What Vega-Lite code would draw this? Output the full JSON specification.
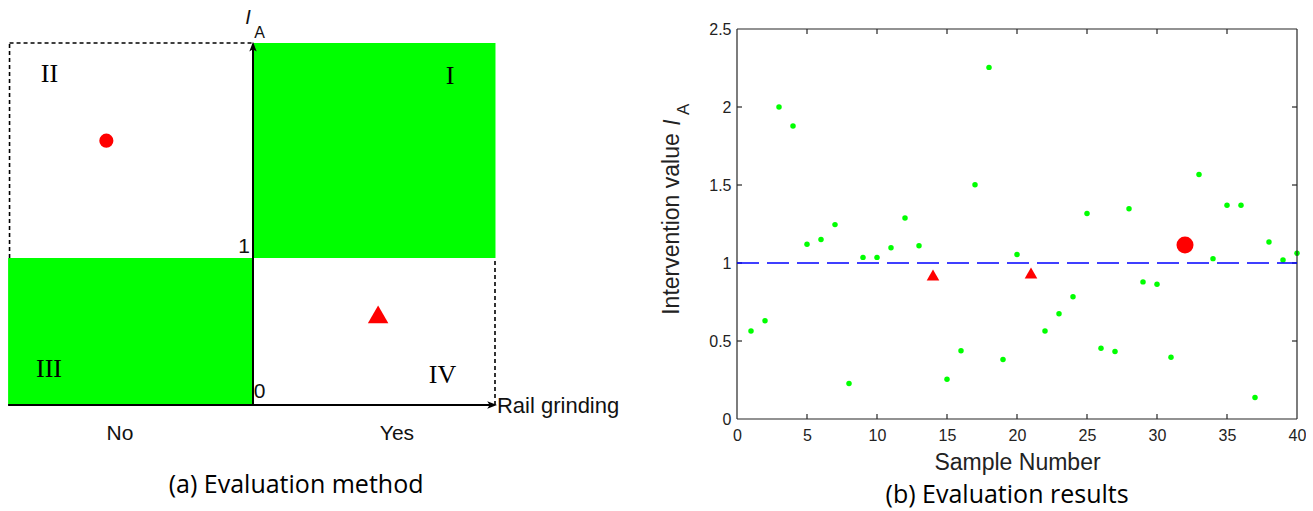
{
  "$schema": "https://vega.github.io/schema/vega-lite/v6.json",
  "padding": 0,
  "background": "white",
  "spacing": 87,
  "bounds": "flush",
  "config": {"view": {"stroke": null}},
  "resolve": {"scale": {"shape": "independent", "size": "independent", "color": "independent"}},
  "hconcat": [
    {
      "width": 650,
      "height": 511,
      "layer": [
        {
          "data": {"values": [
            {"x": 0, "x2": 1.002, "y": 1, "y2": 2.463},
            {"x": -1.012, "x2": 0, "y": 0, "y2": 1}
          ]},
          "mark": {"type": "rect", "color": "#00ff00"},
          "encoding": {
            "x": {"field": "x", "type": "quantitative", "scale": {"domain": [-1.04545, 1.6405], "nice": false, "zero": false}, "axis": null},
            "x2": {"field": "x2"},
            "y": {"field": "y", "type": "quantitative", "scale": {"domain": [-0.72109, 2.7551], "nice": false, "zero": false}, "axis": null},
            "y2": {"field": "y2"}
          }
        },
        {
          "data": {"values": [
            {"x": -1.006, "x2": 0, "y": 2.463, "y2": 2.463},
            {"x": -1.006, "x2": -1.006, "y": 1, "y2": 2.463},
            {"x": 1, "x2": 1, "y": 0, "y2": 1}
          ]},
          "mark": {"type": "rule", "color": "#000000", "strokeWidth": 1.6, "strokeDash": [4, 3]},
          "encoding": {
            "x": {"field": "x", "type": "quantitative", "scale": {"domain": [-1.04545, 1.6405], "nice": false, "zero": false}, "axis": null},
            "x2": {"field": "x2"},
            "y": {"field": "y", "type": "quantitative", "scale": {"domain": [-0.72109, 2.7551], "nice": false, "zero": false}, "axis": null},
            "y2": {"field": "y2"}
          }
        },
        {
          "data": {"values": [
            {"x": 0, "x2": 0, "y": 0, "y2": 2.44},
            {"x": -1.012, "x2": 0.98, "y": 0, "y2": 0}
          ]},
          "mark": {"type": "rule", "color": "#000000", "strokeWidth": 2},
          "encoding": {
            "x": {"field": "x", "type": "quantitative", "scale": {"domain": [-1.04545, 1.6405], "nice": false, "zero": false}, "axis": null},
            "x2": {"field": "x2"},
            "y": {"field": "y", "type": "quantitative", "scale": {"domain": [-0.72109, 2.7551], "nice": false, "zero": false}, "axis": null},
            "y2": {"field": "y2"}
          }
        },
        {
          "data": {"values": [{"x": 0, "y": 2.429}]},
          "mark": {"type": "point", "filled": true, "opacity": 1, "color": "#000000", "size": 150, "shape": "M0,-1L0.6,0.6L0,0.2L-0.6,0.6Z"},
          "encoding": {
            "x": {"field": "x", "type": "quantitative", "scale": {"domain": [-1.04545, 1.6405], "nice": false, "zero": false}, "axis": null},
            "y": {"field": "y", "type": "quantitative", "scale": {"domain": [-0.72109, 2.7551], "nice": false, "zero": false}, "axis": null}
          }
        },
        {
          "data": {"values": [{"x": 0.983, "y": 0}]},
          "mark": {"type": "point", "filled": true, "opacity": 1, "color": "#000000", "size": 150, "shape": "M1,0L-0.6,0.6L-0.2,0L-0.6,-0.6Z"},
          "encoding": {
            "x": {"field": "x", "type": "quantitative", "scale": {"domain": [-1.04545, 1.6405], "nice": false, "zero": false}, "axis": null},
            "y": {"field": "y", "type": "quantitative", "scale": {"domain": [-0.72109, 2.7551], "nice": false, "zero": false}, "axis": null}
          }
        },
        {
          "data": {"values": [{"x": -0.606, "y": 1.798}]},
          "mark": {"type": "point", "filled": true, "opacity": 1, "color": "#ff0000", "size": 200, "shape": "circle"},
          "encoding": {
            "x": {"field": "x", "type": "quantitative", "scale": {"domain": [-1.04545, 1.6405], "nice": false, "zero": false}, "axis": null},
            "y": {"field": "y", "type": "quantitative", "scale": {"domain": [-0.72109, 2.7551], "nice": false, "zero": false}, "axis": null}
          }
        },
        {
          "data": {"values": [{"x": 0.517, "y": 0.616}]},
          "mark": {"type": "point", "filled": true, "opacity": 1, "color": "#ff0000", "size": 420, "shape": "triangle-up"},
          "encoding": {
            "x": {"field": "x", "type": "quantitative", "scale": {"domain": [-1.04545, 1.6405], "nice": false, "zero": false}, "axis": null},
            "y": {"field": "y", "type": "quantitative", "scale": {"domain": [-0.72109, 2.7551], "nice": false, "zero": false}, "axis": null}
          }
        },
        {
          "data": {"values": [
            {"x": -0.841, "y": 2.252, "t": "II"},
            {"x": 0.814, "y": 2.235, "t": "I"},
            {"x": -0.843, "y": 0.248, "t": "III"},
            {"x": 0.783, "y": 0.201, "t": "IV"}
          ]},
          "mark": {"type": "text", "font": "Liberation Serif", "fontSize": 26, "color": "#000000", "align": "center", "baseline": "middle"},
          "encoding": {
            "x": {"field": "x", "type": "quantitative", "scale": {"domain": [-1.04545, 1.6405], "nice": false, "zero": false}, "axis": null},
            "y": {"field": "y", "type": "quantitative", "scale": {"domain": [-0.72109, 2.7551], "nice": false, "zero": false}, "axis": null},
            "text": {"field": "t"}
          }
        },
        {
          "data": {"values": [
            {"x": -0.037, "y": 1.075, "t": "1"},
            {"x": 0.027, "y": 0.088, "t": "0"},
            {"x": -0.55, "y": -0.195, "t": "No"},
            {"x": 0.595, "y": -0.195, "t": "Yes"}
          ]},
          "mark": {"type": "text", "font": "Liberation Sans", "fontSize": 21, "color": "#111111", "align": "center", "baseline": "middle"},
          "encoding": {
            "x": {"field": "x", "type": "quantitative", "scale": {"domain": [-1.04545, 1.6405], "nice": false, "zero": false}, "axis": null},
            "y": {"field": "y", "type": "quantitative", "scale": {"domain": [-0.72109, 2.7551], "nice": false, "zero": false}, "axis": null},
            "text": {"field": "t"}
          }
        },
        {
          "data": {"values": [
            {"x": 1.008, "y": -0.007, "t": "Rail grinding"}
          ]},
          "mark": {"type": "text", "font": "Liberation Sans", "fontSize": 22, "color": "#111111", "align": "left", "baseline": "middle"},
          "encoding": {
            "x": {"field": "x", "type": "quantitative", "scale": {"domain": [-1.04545, 1.6405], "nice": false, "zero": false}, "axis": null},
            "y": {"field": "y", "type": "quantitative", "scale": {"domain": [-0.72109, 2.7551], "nice": false, "zero": false}, "axis": null},
            "text": {"field": "t"}
          }
        },
        {
          "data": {"values": [
            {"x": -0.021, "y": 2.636, "t": "I"}
          ]},
          "mark": {"type": "text", "font": "Liberation Sans", "fontSize": 20, "fontStyle": "italic", "color": "#111111", "align": "center", "baseline": "middle"},
          "encoding": {
            "x": {"field": "x", "type": "quantitative", "scale": {"domain": [-1.04545, 1.6405], "nice": false, "zero": false}, "axis": null},
            "y": {"field": "y", "type": "quantitative", "scale": {"domain": [-0.72109, 2.7551], "nice": false, "zero": false}, "axis": null},
            "text": {"field": "t"}
          }
        },
        {
          "data": {"values": [
            {"x": 0.027, "y": 2.53, "t": "A"}
          ]},
          "mark": {"type": "text", "font": "Liberation Sans", "fontSize": 16, "color": "#111111", "align": "center", "baseline": "middle"},
          "encoding": {
            "x": {"field": "x", "type": "quantitative", "scale": {"domain": [-1.04545, 1.6405], "nice": false, "zero": false}, "axis": null},
            "y": {"field": "y", "type": "quantitative", "scale": {"domain": [-0.72109, 2.7551], "nice": false, "zero": false}, "axis": null},
            "text": {"field": "t"}
          }
        },
        {
          "data": {"values": [
            {"x": 0.178, "y": -0.544, "t": "(a) Evaluation method"}
          ]},
          "mark": {"type": "text", "font": "Open Sans", "fontSize": 25, "color": "#000000", "align": "center", "baseline": "middle"},
          "encoding": {
            "x": {"field": "x", "type": "quantitative", "scale": {"domain": [-1.04545, 1.6405], "nice": false, "zero": false}, "axis": null},
            "y": {"field": "y", "type": "quantitative", "scale": {"domain": [-0.72109, 2.7551], "nice": false, "zero": false}, "axis": null},
            "text": {"field": "t"}
          }
        }
      ]
    },
    {
      "width": 560,
      "height": 419,
      "layer": [
        {
          "data": {"values": [
            {"n": 1, "v": 0.564, "kind": "normal"},
            {"n": 2, "v": 0.63, "kind": "normal"},
            {"n": 3, "v": 2.0, "kind": "normal"},
            {"n": 4, "v": 1.878, "kind": "normal"},
            {"n": 5, "v": 1.12, "kind": "normal"},
            {"n": 6, "v": 1.15, "kind": "normal"},
            {"n": 7, "v": 1.246, "kind": "normal"},
            {"n": 8, "v": 0.228, "kind": "normal"},
            {"n": 9, "v": 1.036, "kind": "normal"},
            {"n": 10, "v": 1.036, "kind": "normal"},
            {"n": 11, "v": 1.098, "kind": "normal"},
            {"n": 12, "v": 1.288, "kind": "normal"},
            {"n": 13, "v": 1.11, "kind": "normal"},
            {"n": 14, "v": 0.923, "kind": "triangle"},
            {"n": 15, "v": 0.255, "kind": "normal"},
            {"n": 16, "v": 0.438, "kind": "normal"},
            {"n": 17, "v": 1.502, "kind": "normal"},
            {"n": 18, "v": 2.254, "kind": "normal"},
            {"n": 19, "v": 0.381, "kind": "normal"},
            {"n": 20, "v": 1.055, "kind": "normal"},
            {"n": 21, "v": 0.936, "kind": "triangle"},
            {"n": 22, "v": 0.564, "kind": "normal"},
            {"n": 23, "v": 0.674, "kind": "normal"},
            {"n": 24, "v": 0.783, "kind": "normal"},
            {"n": 25, "v": 1.318, "kind": "normal"},
            {"n": 26, "v": 0.453, "kind": "normal"},
            {"n": 27, "v": 0.432, "kind": "normal"},
            {"n": 28, "v": 1.348, "kind": "normal"},
            {"n": 29, "v": 0.879, "kind": "normal"},
            {"n": 30, "v": 0.864, "kind": "normal"},
            {"n": 31, "v": 0.396, "kind": "normal"},
            {"n": 32, "v": 1.115, "kind": "circle"},
            {"n": 33, "v": 1.568, "kind": "normal"},
            {"n": 34, "v": 1.028, "kind": "normal"},
            {"n": 35, "v": 1.37, "kind": "normal"},
            {"n": 36, "v": 1.37, "kind": "normal"},
            {"n": 37, "v": 0.138, "kind": "normal"},
            {"n": 38, "v": 1.135, "kind": "normal"},
            {"n": 39, "v": 1.019, "kind": "normal"},
            {"n": 40, "v": 1.062, "kind": "normal"}
          ]},
          "mark": {"type": "point", "filled": true, "opacity": 1},
          "encoding": {
            "x": {"field": "n", "type": "quantitative", "scale": {"domain": [0, 40], "nice": false, "zero": false},
              "axis": {"values": [0, 5, 10, 15, 20, 25, 30, 35, 40], "domain": false, "ticks": false, "grid": false, "labelFlush": false, "labelOverlap": false, "labelPadding": 8, "labelFontSize": 16, "labelFont": "Liberation Sans", "labelColor": "#222222", "title": "Sample Number", "titleFontSize": 23, "titleFont": "Liberation Sans", "titleFontWeight": "normal", "titleColor": "#222222", "titlePadding": 8}},
            "y": {"field": "v", "type": "quantitative", "scale": {"domain": [0, 2.6859], "nice": false, "zero": false},
              "axis": {"values": [0, 0.5, 1, 1.5, 2, 2.5], "format": "~g", "domain": false, "ticks": false, "grid": false, "labelFlush": false, "labelOverlap": false, "labelPadding": 6, "labelFontSize": 16, "labelFont": "Liberation Sans", "labelColor": "#222222", "title": null}},
            "shape": {"field": "kind", "type": "nominal", "scale": {"domain": ["normal", "triangle", "circle"], "range": ["circle", "triangle-up", "circle"]}, "legend": null},
            "color": {"field": "kind", "type": "nominal", "scale": {"domain": ["normal", "triangle", "circle"], "range": ["#00ff00", "#ff0000", "#ff0000"]}, "legend": null},
            "size": {"field": "kind", "type": "nominal", "scale": {"domain": ["normal", "triangle", "circle"], "range": [30, 290, 110]}, "legend": null}
          }
        },
        {
          "data": {"values": [
            {"x": 0, "x2": 40, "y": 0, "y2": 0},
            {"x": 0, "x2": 40, "y": 2.5, "y2": 2.5},
            {"x": 0, "x2": 0, "y": 0, "y2": 2.5},
            {"x": 40, "x2": 40, "y": 0, "y2": 2.5}
          ]},
          "mark": {"type": "rule", "color": "#262626", "strokeWidth": 1.2},
          "encoding": {
            "x": {"field": "x", "type": "quantitative", "scale": {"domain": [0, 40], "nice": false, "zero": false},
              "axis": {"values": [0, 5, 10, 15, 20, 25, 30, 35, 40], "domain": false, "ticks": false, "grid": false, "labelFlush": false, "labelOverlap": false, "labelPadding": 8, "labelFontSize": 16, "labelFont": "Liberation Sans", "labelColor": "#222222", "title": "Sample Number", "titleFontSize": 23, "titleFont": "Liberation Sans", "titleFontWeight": "normal", "titleColor": "#222222", "titlePadding": 8}},
            "x2": {"field": "x2"},
            "y": {"field": "y", "type": "quantitative", "scale": {"domain": [0, 2.6859], "nice": false, "zero": false},
              "axis": {"values": [0, 0.5, 1, 1.5, 2, 2.5], "format": "~g", "domain": false, "ticks": false, "grid": false, "labelFlush": false, "labelOverlap": false, "labelPadding": 6, "labelFontSize": 16, "labelFont": "Liberation Sans", "labelColor": "#222222", "title": null}},
            "y2": {"field": "y2"}
          }
        },
        {
          "data": {"values": [{"v": 5}, {"v": 10}, {"v": 15}, {"v": 20}, {"v": 25}, {"v": 30}, {"v": 35}]},
          "mark": {"type": "rule", "color": "#262626", "strokeWidth": 1.2, "y2Offset": -5},
          "encoding": {
            "x": {"field": "v", "type": "quantitative", "scale": {"domain": [0, 40], "nice": false, "zero": false},
              "axis": {"values": [0, 5, 10, 15, 20, 25, 30, 35, 40], "domain": false, "ticks": false, "grid": false, "labelFlush": false, "labelOverlap": false, "labelPadding": 8, "labelFontSize": 16, "labelFont": "Liberation Sans", "labelColor": "#222222", "title": "Sample Number", "titleFontSize": 23, "titleFont": "Liberation Sans", "titleFontWeight": "normal", "titleColor": "#222222", "titlePadding": 8}},
            "y": {"datum": 0, "type": "quantitative", "scale": {"domain": [0, 2.6859], "nice": false, "zero": false},
              "axis": {"values": [0, 0.5, 1, 1.5, 2, 2.5], "format": "~g", "domain": false, "ticks": false, "grid": false, "labelFlush": false, "labelOverlap": false, "labelPadding": 6, "labelFontSize": 16, "labelFont": "Liberation Sans", "labelColor": "#222222", "title": null}},
            "y2": {"datum": 0}
          }
        },
        {
          "data": {"values": [{"v": 5}, {"v": 10}, {"v": 15}, {"v": 20}, {"v": 25}, {"v": 30}, {"v": 35}]},
          "mark": {"type": "rule", "color": "#262626", "strokeWidth": 1.2, "y2Offset": 5},
          "encoding": {
            "x": {"field": "v", "type": "quantitative", "scale": {"domain": [0, 40], "nice": false, "zero": false},
              "axis": {"values": [0, 5, 10, 15, 20, 25, 30, 35, 40], "domain": false, "ticks": false, "grid": false, "labelFlush": false, "labelOverlap": false, "labelPadding": 8, "labelFontSize": 16, "labelFont": "Liberation Sans", "labelColor": "#222222", "title": "Sample Number", "titleFontSize": 23, "titleFont": "Liberation Sans", "titleFontWeight": "normal", "titleColor": "#222222", "titlePadding": 8}},
            "y": {"datum": 2.5, "type": "quantitative", "scale": {"domain": [0, 2.6859], "nice": false, "zero": false},
              "axis": {"values": [0, 0.5, 1, 1.5, 2, 2.5], "format": "~g", "domain": false, "ticks": false, "grid": false, "labelFlush": false, "labelOverlap": false, "labelPadding": 6, "labelFontSize": 16, "labelFont": "Liberation Sans", "labelColor": "#222222", "title": null}},
            "y2": {"datum": 2.5}
          }
        },
        {
          "data": {"values": [{"v": 0.5}, {"v": 1}, {"v": 1.5}, {"v": 2}]},
          "mark": {"type": "rule", "color": "#262626", "strokeWidth": 1.2, "x2Offset": 5},
          "encoding": {
            "y": {"field": "v", "type": "quantitative", "scale": {"domain": [0, 2.6859], "nice": false, "zero": false},
              "axis": {"values": [0, 0.5, 1, 1.5, 2, 2.5], "format": "~g", "domain": false, "ticks": false, "grid": false, "labelFlush": false, "labelOverlap": false, "labelPadding": 6, "labelFontSize": 16, "labelFont": "Liberation Sans", "labelColor": "#222222", "title": null}},
            "x": {"datum": 0, "type": "quantitative", "scale": {"domain": [0, 40], "nice": false, "zero": false},
              "axis": {"values": [0, 5, 10, 15, 20, 25, 30, 35, 40], "domain": false, "ticks": false, "grid": false, "labelFlush": false, "labelOverlap": false, "labelPadding": 8, "labelFontSize": 16, "labelFont": "Liberation Sans", "labelColor": "#222222", "title": "Sample Number", "titleFontSize": 23, "titleFont": "Liberation Sans", "titleFontWeight": "normal", "titleColor": "#222222", "titlePadding": 8}},
            "x2": {"datum": 0}
          }
        },
        {
          "data": {"values": [{"v": 0.5}, {"v": 1}, {"v": 1.5}, {"v": 2}]},
          "mark": {"type": "rule", "color": "#262626", "strokeWidth": 1.2, "x2Offset": -5},
          "encoding": {
            "y": {"field": "v", "type": "quantitative", "scale": {"domain": [0, 2.6859], "nice": false, "zero": false},
              "axis": {"values": [0, 0.5, 1, 1.5, 2, 2.5], "format": "~g", "domain": false, "ticks": false, "grid": false, "labelFlush": false, "labelOverlap": false, "labelPadding": 6, "labelFontSize": 16, "labelFont": "Liberation Sans", "labelColor": "#222222", "title": null}},
            "x": {"datum": 40, "type": "quantitative", "scale": {"domain": [0, 40], "nice": false, "zero": false},
              "axis": {"values": [0, 5, 10, 15, 20, 25, 30, 35, 40], "domain": false, "ticks": false, "grid": false, "labelFlush": false, "labelOverlap": false, "labelPadding": 8, "labelFontSize": 16, "labelFont": "Liberation Sans", "labelColor": "#222222", "title": "Sample Number", "titleFontSize": 23, "titleFont": "Liberation Sans", "titleFontWeight": "normal", "titleColor": "#222222", "titlePadding": 8}},
            "x2": {"datum": 40}
          }
        },
        {
          "data": {"values": [{"x": 0, "x2": 40, "y": 1}]},
          "mark": {"type": "rule", "color": "#0000ff", "strokeWidth": 1.5, "strokeDash": [22, 8]},
          "encoding": {
            "x": {"field": "x", "type": "quantitative", "scale": {"domain": [0, 40], "nice": false, "zero": false},
              "axis": {"values": [0, 5, 10, 15, 20, 25, 30, 35, 40], "domain": false, "ticks": false, "grid": false, "labelFlush": false, "labelOverlap": false, "labelPadding": 8, "labelFontSize": 16, "labelFont": "Liberation Sans", "labelColor": "#222222", "title": "Sample Number", "titleFontSize": 23, "titleFont": "Liberation Sans", "titleFontWeight": "normal", "titleColor": "#222222", "titlePadding": 8}},
            "x2": {"field": "x2"},
            "y": {"field": "y", "type": "quantitative", "scale": {"domain": [0, 2.6859], "nice": false, "zero": false},
              "axis": {"values": [0, 0.5, 1, 1.5, 2, 2.5], "format": "~g", "domain": false, "ticks": false, "grid": false, "labelFlush": false, "labelOverlap": false, "labelPadding": 6, "labelFontSize": 16, "labelFont": "Liberation Sans", "labelColor": "#222222", "title": null}}
          }
        },
        {
          "data": {"values": [{"x": -4.643, "y": 1.25, "t": "Intervention value"}]},
          "mark": {"type": "text", "font": "Liberation Sans", "fontSize": 23, "color": "#222222", "angle": 270, "align": "center", "baseline": "middle"},
          "encoding": {
            "x": {"field": "x", "type": "quantitative", "scale": {"domain": [0, 40], "nice": false, "zero": false},
              "axis": {"values": [0, 5, 10, 15, 20, 25, 30, 35, 40], "domain": false, "ticks": false, "grid": false, "labelFlush": false, "labelOverlap": false, "labelPadding": 8, "labelFontSize": 16, "labelFont": "Liberation Sans", "labelColor": "#222222", "title": "Sample Number", "titleFontSize": 23, "titleFont": "Liberation Sans", "titleFontWeight": "normal", "titleColor": "#222222", "titlePadding": 8}},
            "y": {"field": "y", "type": "quantitative", "scale": {"domain": [0, 2.6859], "nice": false, "zero": false},
              "axis": {"values": [0, 0.5, 1, 1.5, 2, 2.5], "format": "~g", "domain": false, "ticks": false, "grid": false, "labelFlush": false, "labelOverlap": false, "labelPadding": 6, "labelFontSize": 16, "labelFont": "Liberation Sans", "labelColor": "#222222", "title": null}},
            "text": {"field": "t"}
          }
        },
        {
          "data": {"values": [{"x": -4.55, "y": 1.9, "t": "I"}]},
          "mark": {"type": "text", "font": "Liberation Sans", "fontSize": 23, "fontStyle": "italic", "color": "#222222", "angle": 270, "align": "center", "baseline": "middle"},
          "encoding": {
            "x": {"field": "x", "type": "quantitative", "scale": {"domain": [0, 40], "nice": false, "zero": false},
              "axis": {"values": [0, 5, 10, 15, 20, 25, 30, 35, 40], "domain": false, "ticks": false, "grid": false, "labelFlush": false, "labelOverlap": false, "labelPadding": 8, "labelFontSize": 16, "labelFont": "Liberation Sans", "labelColor": "#222222", "title": "Sample Number", "titleFontSize": 23, "titleFont": "Liberation Sans", "titleFontWeight": "normal", "titleColor": "#222222", "titlePadding": 8}},
            "y": {"field": "y", "type": "quantitative", "scale": {"domain": [0, 2.6859], "nice": false, "zero": false},
              "axis": {"values": [0, 0.5, 1, 1.5, 2, 2.5], "format": "~g", "domain": false, "ticks": false, "grid": false, "labelFlush": false, "labelOverlap": false, "labelPadding": 6, "labelFontSize": 16, "labelFont": "Liberation Sans", "labelColor": "#222222", "title": null}},
            "text": {"field": "t"}
          }
        },
        {
          "data": {"values": [{"x": -3.8, "y": 1.985, "t": "A"}]},
          "mark": {"type": "text", "font": "Liberation Sans", "fontSize": 17, "color": "#222222", "angle": 270, "align": "center", "baseline": "middle"},
          "encoding": {
            "x": {"field": "x", "type": "quantitative", "scale": {"domain": [0, 40], "nice": false, "zero": false},
              "axis": {"values": [0, 5, 10, 15, 20, 25, 30, 35, 40], "domain": false, "ticks": false, "grid": false, "labelFlush": false, "labelOverlap": false, "labelPadding": 8, "labelFontSize": 16, "labelFont": "Liberation Sans", "labelColor": "#222222", "title": "Sample Number", "titleFontSize": 23, "titleFont": "Liberation Sans", "titleFontWeight": "normal", "titleColor": "#222222", "titlePadding": 8}},
            "y": {"field": "y", "type": "quantitative", "scale": {"domain": [0, 2.6859], "nice": false, "zero": false},
              "axis": {"values": [0, 0.5, 1, 1.5, 2, 2.5], "format": "~g", "domain": false, "ticks": false, "grid": false, "labelFlush": false, "labelOverlap": false, "labelPadding": 6, "labelFontSize": 16, "labelFont": "Liberation Sans", "labelColor": "#222222", "title": null}},
            "text": {"field": "t"}
          }
        },
        {
          "data": {"values": [{"x": 19.29, "y": -0.487, "t": "(b) Evaluation results"}]},
          "mark": {"type": "text", "font": "Open Sans", "fontSize": 25, "color": "#000000", "align": "center", "baseline": "middle"},
          "encoding": {
            "x": {"field": "x", "type": "quantitative", "scale": {"domain": [0, 40], "nice": false, "zero": false},
              "axis": {"values": [0, 5, 10, 15, 20, 25, 30, 35, 40], "domain": false, "ticks": false, "grid": false, "labelFlush": false, "labelOverlap": false, "labelPadding": 8, "labelFontSize": 16, "labelFont": "Liberation Sans", "labelColor": "#222222", "title": "Sample Number", "titleFontSize": 23, "titleFont": "Liberation Sans", "titleFontWeight": "normal", "titleColor": "#222222", "titlePadding": 8}},
            "y": {"field": "y", "type": "quantitative", "scale": {"domain": [0, 2.6859], "nice": false, "zero": false},
              "axis": {"values": [0, 0.5, 1, 1.5, 2, 2.5], "format": "~g", "domain": false, "ticks": false, "grid": false, "labelFlush": false, "labelOverlap": false, "labelPadding": 6, "labelFontSize": 16, "labelFont": "Liberation Sans", "labelColor": "#222222", "title": null}},
            "text": {"field": "t"}
          }
        }
      ]
    }
  ]
}
